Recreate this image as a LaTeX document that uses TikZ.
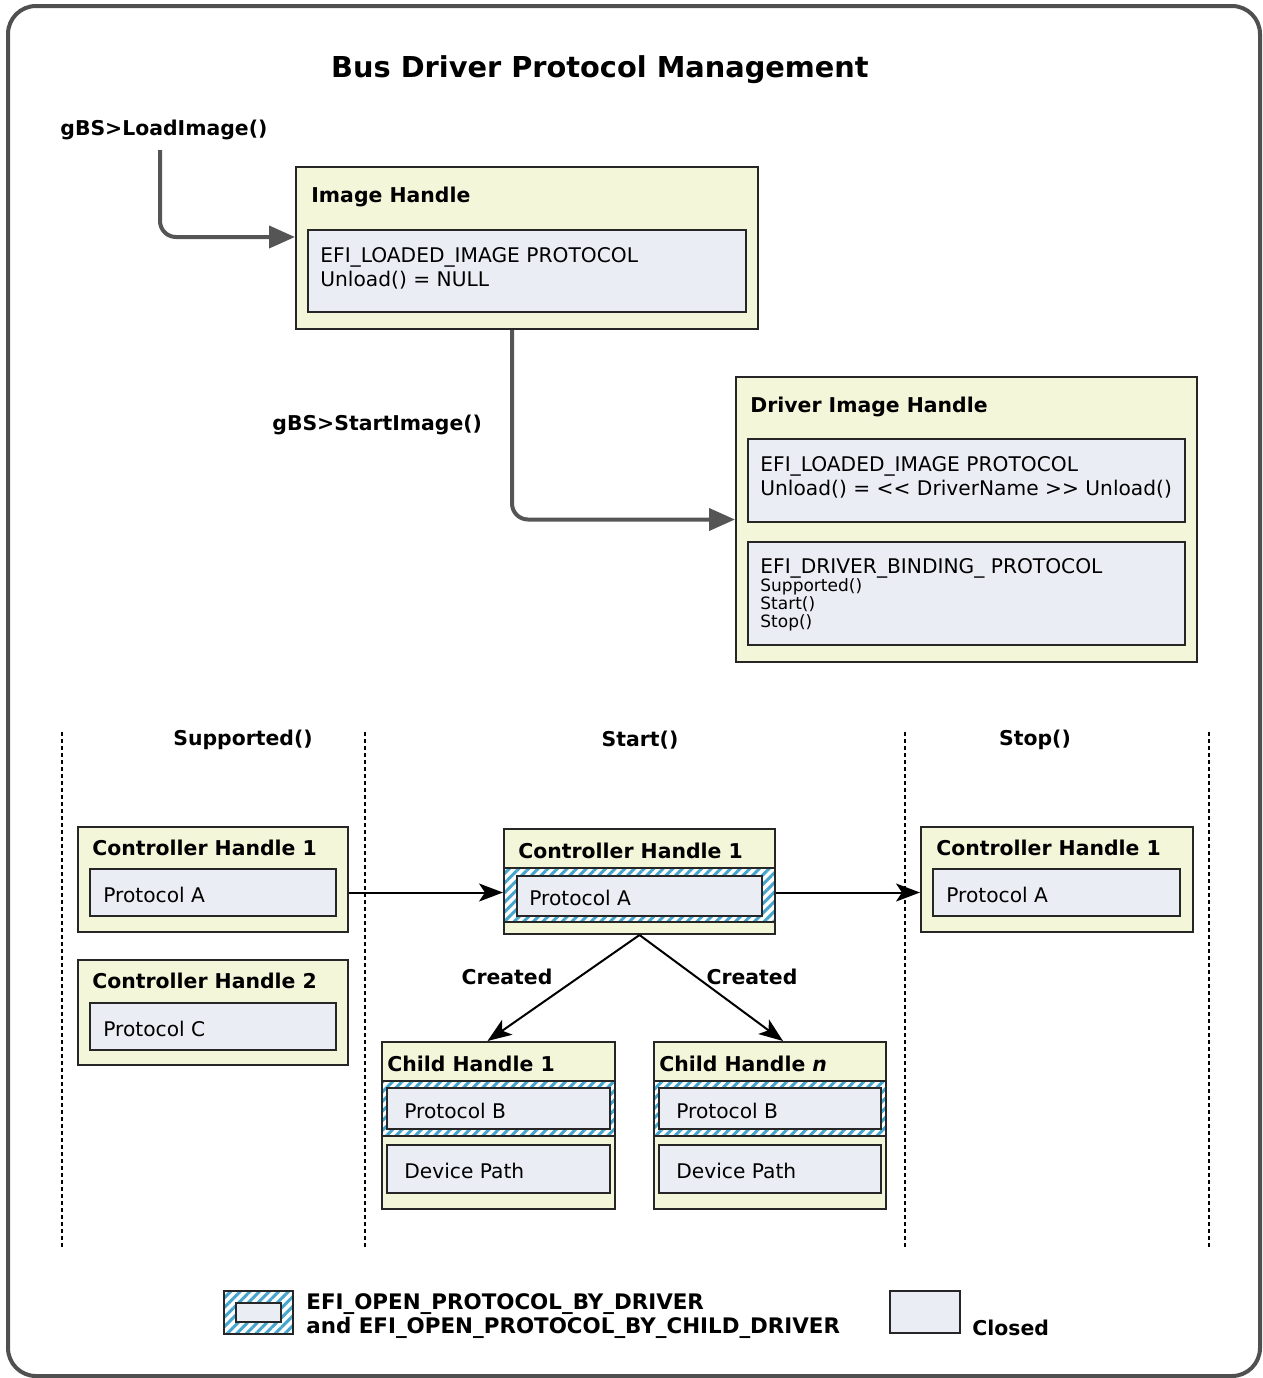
\documentclass[tikz,border=0pt]{standalone}
\usepackage{fontspec}
\setmainfont{DejaVu Sans}
\usetikzlibrary{arrows.meta,patterns.meta,fit,calc,positioning}

\definecolor{framegray}{RGB}{80,80,80}
\definecolor{hfill}{RGB}{244,246,218}
\definecolor{pfill}{RGB}{234,237,244}
\definecolor{hatchblue}{RGB}{70,165,205}
\definecolor{arrowgray}{RGB}{85,85,85}

\tikzset{
  handle/.style={draw=black!85, fill=hfill, line width=1pt, inner sep=0pt},
  proto/.style={draw=black!85, fill=pfill, line width=1pt, inner sep=0pt},
  hatched/.style={draw=black!85, line width=1pt, inner sep=0pt,
    preaction={fill=white},
    preaction={pattern={Lines[angle=45,distance=3.4pt,line width=1.5pt]}, pattern color=hatchblue}},
  ttl/.style={font=\fontsize{10.2}{12}\selectfont\bfseries, anchor=west, inner sep=0pt, align=left},
  txt/.style={font=\fontsize{10.1}{12}\selectfont, anchor=west, inner sep=0pt, align=left},
  bigarrow/.style={draw=arrowgray, line width=2pt, rounded corners=8pt, -{Triangle[length=13pt,width=11pt]}},
  flow/.style={line width=1pt, -{Stealth[length=12pt,width=9pt,inset=3pt]}},
  colline/.style={dash pattern=on 2pt off 1.5pt, line width=0.6pt}
}

\begin{document}
\begin{tikzpicture}[x=0.5pt,y=-0.5pt]
\useasboundingbox (0,0) rectangle (1263,1378);
% frame
\draw[framegray, line width=2pt, rounded corners=14pt] (8,6) rectangle (1260,1376);

% title
\node[font=\fontsize{14.4}{17}\selectfont\bfseries] (title) at (600,70) {Bus Driver Protocol Management};

% image handle
\node[ttl] (load) at (60,130) {gBS>LoadImage()};
\coordinate (loadstart) at (160,150);
\node[handle, fit={(296,167) (758,329)}] (img) {};
\node[ttl] at ($(img.north west)+(16,31)$) {Image Handle};
\node[proto, fit={(308,230) (746,312)}] (imgproto) {};
\node[txt] at ($(imgproto.west)+(13,-3)$) {EFI\_LOADED\_IMAGE PROTOCOL\\Unload() = NULL};
\draw[bigarrow] (loadstart) |- ([yshift=5.5pt]img.west);

% driver image handle
\node[ttl] (start) at (272,425) {gBS>StartImage()};
\node[handle, fit={(736,377) (1197,662)}] (drv) {};
\node[ttl] at ($(drv.north west)+(15,31)$) {Driver Image Handle};
\node[proto, fit={(748,439) (1185,522)}] (drvload) {};
\node[txt] at ($(drvload.west)+(13,-3)$) {EFI\_LOADED\_IMAGE PROTOCOL\\Unload() = <\kern0pt< DriverName >\kern0pt> Unload()};
\node[proto, fit={(748,542) (1185,645)}] (drvbind) {};
\node[txt] (bindname) at ($(drvbind.north west)+(13,27)$) {EFI\_DRIVER\_BINDING\_ PROTOCOL};
\node[font=\fontsize{8.5}{9}\selectfont, anchor=north west, inner sep=0pt, align=left]
  at ($(drvbind.north west)+(13,37)$) {Supported()\\Start()\\Stop()};
\draw[bigarrow] ([xshift=-7.5pt]img.south) |- (drv.west);

% columns
\foreach \x in {62,365,905,1209}
\draw[colline] (\x,732) -- (\x,1250);
\node[ttl, anchor=center] at (243,740) {Supported()};
\node[ttl, anchor=center] at (640,740) {Start()};
\node[ttl, anchor=center] at (1035,740) {Stop()};

% supported
\node[handle, fit={(78,827) (348,932)}] (ctl1) {};
\node[ttl] at ($(ctl1.north west)+(15,22)$) {Controller Handle 1};
\node[proto, fit={(90,869) (336,916)}] (ctl1a) {};
\node[txt] at ($(ctl1a.west)+(14,2)$) {Protocol A};
\node[handle, fit={(78,960) (348,1065)}] (ctl2) {};
\node[ttl] at ($(ctl2.north west)+(15,22)$) {Controller Handle 2};
\node[proto, fit={(90,1003) (336,1050)}] (ctl2c) {};
\node[txt] at ($(ctl2c.west)+(14,2)$) {Protocol C};

% start
\node[handle, fit={(504,829) (775,934)}] (ctlm) {};
\node[ttl] at ($(ctlm.north west)+(15,23)$) {Controller Handle 1};
\node[hatched, fit={(504,868) (775,922)}] (ctlmband) {};
\node[proto, fit={(517,876) (762,916)}] (ctlma) {};
\node[txt] at ($(ctlma.west)+(13,2)$) {Protocol A};

% stop
\node[handle, fit={(921,827) (1193,932)}] (ctlr) {};
\node[ttl] at ($(ctlr.north west)+(16,22)$) {Controller Handle 1};
\node[proto, fit={(933,869) (1180,916)}] (ctlra) {};
\node[txt] at ($(ctlra.west)+(14,2)$) {Protocol A};

\draw[flow] (ctl1a.east -| ctl1.east) -- (ctl1a.east -| ctlm.west);
\draw[flow] (ctl1a.east -| ctlm.east) -- (ctl1a.east -| ctlr.west);

% children
\node[handle, fit={(382,1042) (615,1209)}] (child1) {};
\node[ttl] at ($(child1.north west)+(6,23)$) {Child Handle 1};
\node[hatched, fit={(382,1081) (615,1136)}] (child1band) {};
\node[proto, fit={(387,1088) (610,1129)}] (child1b) {};
\node[txt] at ($(child1b.west)+(18,2)$) {Protocol B};
\node[proto, fit={(387,1145) (610,1193)}] (child1path) {};
\node[txt] at ($(child1path.west)+(18,2)$) {Device Path};

\node[handle, fit={(654,1042) (886,1209)}] (childn) {};
\node[ttl] at ($(childn.north west)+(6,23)$) {Child Handle \textit{n}};
\node[hatched, fit={(654,1081) (886,1136)}] (childnband) {};
\node[proto, fit={(659,1088) (881,1129)}] (childnb) {};
\node[txt] at ($(childnb.west)+(18,2)$) {Protocol B};
\node[proto, fit={(659,1145) (881,1193)}] (childnpath) {};
\node[txt] at ($(childnpath.west)+(18,2)$) {Device Path};

\draw[flow] (ctlm.south) -- ([xshift=-5.5pt]child1.north);
\draw[flow] (ctlm.south) -- ([xshift=6.5pt]childn.north);
\node[ttl, anchor=center] at (507,977) {Created};
\node[ttl, anchor=center] at (752,977) {Created};

% legend
\node[hatched, fit={(224,1291) (293,1334)}] (leghatch) {};
\node[proto, fit={(236,1303) (281,1322)}] (leginner) {};
\node[ttl, font=\fontsize{10.7}{12}\selectfont\bfseries] at (306,1316) {EFI\_OPEN\_PROTOCOL\_BY\_DRIVER\\and EFI\_OPEN\_PROTOCOL\_BY\_CHILD\_DRIVER};
\node[proto, fit={(890,1291) (960,1333)}] (legclosed) {};
\node[ttl] at (972,1328) {Closed};
\end{tikzpicture}
\end{document}
